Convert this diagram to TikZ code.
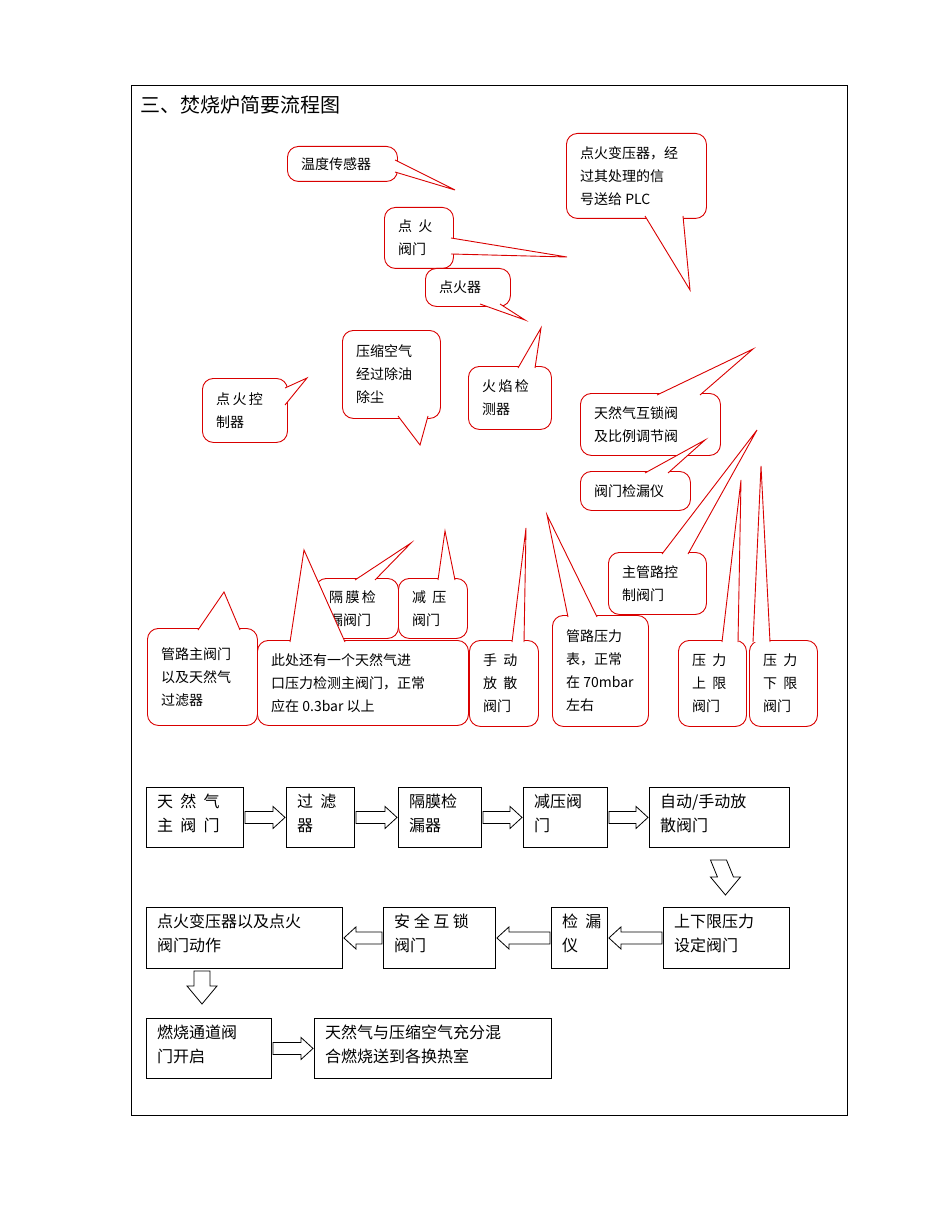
\documentclass[tikz,border=0pt]{standalone}
\usepackage{fontspec}
\setmainfont{Noto Sans CJK SC}
\usetikzlibrary{calc}
\tikzset{
 cbox/.style={draw=red!85!black,line width=0.9pt,rounded corners=11pt,fill=white,inner sep=0pt},
 fbox/.style={draw=black,line width=0.9pt,fill=white,inner sep=0pt},
 harrow/.style={draw=black,fill=white,line width=0.8pt,line join=miter},
 ptr/.style={draw=red!85!black,line width=0.9pt,line join=miter}
}
\newcommand\cb[6]{\pgfmathsetmacro\w{#4-#2}\pgfmathsetmacro\h{#5-#3}%
 \node[cbox,minimum width=\w pt,minimum height=\h pt,anchor=north west] (#1) at (#2,#3) {};
 \node[anchor=west,align=left,font=\fontsize{14}{23}\selectfont,inner sep=0pt] (#1t) at ($(#1.west)+(14,0)$) {#6};}
\newcommand\fb[6]{\pgfmathsetmacro\w{#4-#2}\pgfmathsetmacro\h{#5-#3}%
 \node[fbox,minimum width=\w pt,minimum height=\h pt,anchor=north west] (#1) at (#2,#3) {};
 \node[anchor=north west,align=left,font=\fontsize{16}{24}\selectfont,inner sep=0pt] (#1t) at (#2+11,#3+7) {#6};}
\newcommand\ptr[3]{\fill[white] #1 -- #3 -- #2 -- cycle; \draw[ptr] #1 -- #3 -- #2;}
% hollow arrow from node A side to node B side: #1 start coord, #2 end coord (horizontal)
\newcommand\rarr[2]{\draw[harrow] ($#1+(1,-6)$) -- ($#2+(-13,-6)$) -- ($#2+(-13,-11)$) -- ($#2+(-1,0)$) -- ($#2+(-13,11)$) -- ($#2+(-13,6)$) -- ($#1+(1,6)$) -- cycle;}
\newcommand\larr[2]{\draw[harrow] ($#1+(-1,-6)$) -- ($#2+(13,-6)$) -- ($#2+(13,-11)$) -- ($#2+(1,0)$) -- ($#2+(13,11)$) -- ($#2+(13,6)$) -- ($#1+(-1,6)$) -- cycle;}
\newcommand\darr[2]{\draw[harrow] ($#1+(-8,0)$) -- ($#2+(-8,-18)$) -- ($#2+(-15,-18)$) -- ($#2+(0,0)$) -- ($#2+(15,-18)$) -- ($#2+(8,-18)$) -- ($#1+(8,0)$) -- cycle;}
\newcommand\gp{\ \ }
\begin{document}
\begin{tikzpicture}[x=1pt,y=-1pt]
\useasboundingbox (0,0) rectangle (950,1230);
\draw[line width=0.8pt] (131,85) rectangle (847,1115);
\node[anchor=west,font=\fontsize{20}{24}\selectfont,inner sep=0pt] (title) at (140,105) {三、焚烧炉简要流程图};
% callouts
\cb{c1}{287}{146}{397}{181}{温度传感器}
\ptr{(395,160)}{(395,172)}{(455,190)}
\cb{c4}{566}{133}{706}{218}{点火变压器，经\\过其处理的信\\号送给 PLC}
\ptr{(645,216)}{(683,216)}{(690,290)}
\cb{c2}{384}{207}{453}{268}{点\gp 火\\阀门}
\ptr{(451,238)}{(451,254)}{(567,257)}
\cb{c3}{425}{268}{510}{306}{点火器}
\ptr{(480,304)}{(500,304)}{(525,320)}
\cb{c5}{342}{330}{440}{418}{压缩空气\\经过除油\\除尘}
\ptr{(398,416)}{(428,416)}{(420,445)}
\cb{c6}{202}{378}{287}{442}{点\,火\,控\\制器}
\ptr{(285,388)}{(285,405)}{(307,378)}
\cb{c7}{468}{366}{551}{429}{火\,焰\,检\\测器}
\ptr{(518,368)}{(535,368)}{(541,328)}
\cb{c8}{580}{393}{720}{455}{天然气互锁阀\\及比例调节阀}
\ptr{(657,395)}{(700,395)}{(753,349)}
\cb{c9}{580}{471}{690}{510}{阀门检漏仪}
\ptr{(645,473)}{(668,473)}{(705,440)}
\cb{c10}{608}{552}{706}{614}{主管路控\\制阀门}
\ptr{(662,554)}{(688,554)}{(757,430)}
\cb{c12}{315}{578}{398}{638}{隔\,膜\,检\\漏阀门}
\ptr{(355,580)}{(375,580)}{(411,543)}
\cb{c13}{398}{578}{467}{638}{减\gp 压\\阀门}
\ptr{(438,580)}{(455,580)}{(445,531)}
\cb{c11}{257}{640}{468}{725}{此处还有一个天然气进\\口压力检测主阀门，正常\\应在 0.3bar 以上}
\ptr{(290,642)}{(345,642)}{(304,550)}
\cb{c10b}{147}{628}{257}{725}{管路主阀门\\以及天然气\\过滤器}
\ptr{(198,630)}{(240,630)}{(224,592)}
\cb{c14}{469}{640}{538}{726}{手\gp 动\\放\gp 散\\阀门}
\ptr{(512,642)}{(524,642)}{(526,528)}
\cb{c15}{552}{615}{648}{726}{管路压力\\表，正常\\在 70mbar\\左右}
\ptr{(568,617)}{(597,617)}{(547,515)}
\cb{c16}{678}{640}{746}{726}{压\gp 力\\上\gp 限\\阀门}
\ptr{(722,642)}{(738,642)}{(741,480)}
\cb{c17}{749}{640}{817}{726}{压\gp 力\\下\gp 限\\阀门}
\ptr{(753,642)}{(770,642)}{(761,466)}
% flow
\fb{A}{146}{787}{243}{847}{天\gp 然\gp 气\\主\gp 阀\gp 门}
\fb{B}{286}{787}{354}{847}{过\gp 滤\\器}
\fb{C}{398}{787}{481}{847}{隔膜检\\漏器}
\fb{D}{523}{787}{607}{847}{减压阀\\门}
\fb{E}{649}{787}{789}{847}{自动/手动放\\散阀门}
\fb{F}{663}{907}{789}{968}{上下限压力\\设定阀门}
\fb{G}{551}{907}{607}{968}{检\gp 漏\\仪}
\fb{H}{383}{907}{495}{968}{安\ 全\ 互\ 锁\\阀门}
\fb{I}{146}{907}{342}{968}{点火变压器以及点火\\阀门动作}
\fb{J}{146}{1018}{271}{1078}{燃烧通道阀\\门开启}
\fb{K}{314}{1018}{551}{1078}{天然气与压缩空气充分混\\合燃烧送到各换热室}
\rarr{(A.east)}{(B.west)}
\rarr{(B.east)}{(C.west)}
\rarr{(C.east)}{(D.west)}
\rarr{(D.east)}{(E.west)}
\darr{($(E.south)+(-1,12)$)}{($(F.north)+(-1,-12)$)}
\larr{(F.west)}{(G.east)}
\larr{(G.west)}{(H.east)}
\larr{(H.west)}{(I.east)}
\darr{(202,971)}{(202,1004)}
\rarr{(J.east)}{(K.west)}
\end{tikzpicture}
\end{document}
